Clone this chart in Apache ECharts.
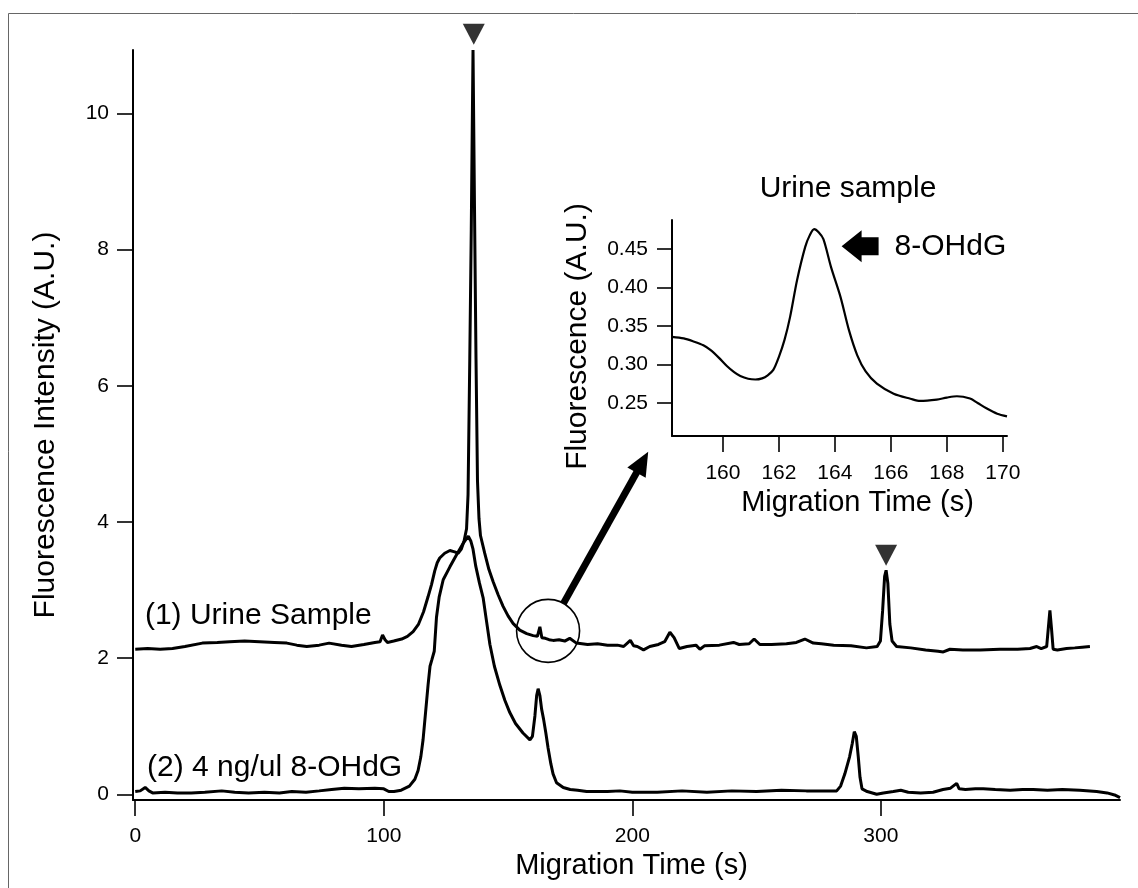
<!DOCTYPE html>
<html>
<head>
<meta charset="utf-8">
<script src="https://cdn.jsdelivr.net/npm/echarts@6/dist/echarts.min.js"></script>
<style>
  html, body { margin: 0; padding: 0; background: #fff; }
  #chart { width: 1138px; height: 888px; }
</style>
</head>
<body>
<div id="chart"></div>
<script>
// electropherogram: (1) urine sample, (2) 4 ng/ul 8-OHdG standard, inset = zoom on the urine trace

// trace (1) urine sample
const urineTime = [
  0, 5, 10, 15, 20, 27, 33, 38, 44, 50,
  56, 61, 65, 69, 74, 78, 83, 87, 92, 96.4,
  98.5, 99.5, 100.5, 101.5, 104, 107.2, 109.5, 111.8, 114, 116,
  117.8, 119.2, 120.5, 121.5, 122.5, 124.5, 126.6, 128.5, 129.9, 131.2,
  132.3, 133.3, 133.9, 134.6, 135.2, 135.9, 136.5, 137.1, 137.7, 138.3,
  138.9, 140.6, 142.3, 144, 146, 148, 150, 152, 154.7, 157.5,
  160.1, 161.8, 162.8, 163.6, 165, 166.5, 168.1, 170.5, 172.8, 174.8,
  177.5, 182, 186, 190, 194, 196.5, 199.2, 200.5, 202, 204.5,
  207, 210.5, 213, 215.1, 216.8, 218.9, 222, 225.6, 227.2, 229,
  235, 240.7, 243, 247, 249, 251.3, 256, 262, 266, 269.4,
  272.8, 276, 281, 288, 294.2, 298.5, 299.8, 300.7, 301.5, 302.1,
  302.8, 303.6, 304.5, 306.3, 312, 318, 323, 325.1, 327.8, 333,
  340, 347.9, 355, 360, 362.7, 364.5, 366.7, 367.5, 368, 368.6,
  369.3, 371, 374.7, 378, 381, 384.1
];
const urineSignal = [
  2.13, 2.14, 2.13, 2.14, 2.17, 2.22, 2.23, 2.24, 2.25, 2.24,
  2.23, 2.22, 2.19, 2.17, 2.19, 2.22, 2.19, 2.17, 2.20, 2.23,
  2.24, 2.34, 2.27, 2.23, 2.25, 2.28, 2.32, 2.39, 2.50, 2.68,
  2.90, 3.08, 3.28, 3.40, 3.47, 3.54, 3.58, 3.56, 3.54, 3.60,
  3.72, 3.90, 4.40, 6.40, 8.30, 10.93, 8.60, 6.40, 4.60, 4.05,
  3.80, 3.54, 3.30, 3.12, 2.93, 2.76, 2.62, 2.51, 2.41, 2.36,
  2.33, 2.32, 2.46, 2.30, 2.29, 2.27, 2.26, 2.27, 2.25, 2.29,
  2.22, 2.20, 2.21, 2.19, 2.19, 2.17, 2.26, 2.18, 2.17, 2.12,
  2.17, 2.20, 2.24, 2.38, 2.30, 2.14, 2.17, 2.19, 2.13, 2.18,
  2.19, 2.23, 2.20, 2.21, 2.28, 2.20, 2.20, 2.21, 2.23, 2.28,
  2.22, 2.21, 2.19, 2.18, 2.15, 2.17, 2.25, 2.70, 3.20, 3.29,
  3.10, 2.50, 2.25, 2.17, 2.15, 2.12, 2.10, 2.09, 2.13, 2.12,
  2.12, 2.13, 2.13, 2.14, 2.17, 2.14, 2.17, 2.50, 2.70, 2.45,
  2.13, 2.12, 2.14, 2.15, 2.16, 2.17
];

// trace (2) 8-OHdG standard
const stdTime = [
  0, 2, 4, 5.5, 7, 12, 17, 22.5, 28, 34.8,
  40, 45.6, 52, 58, 63, 68.7, 74, 79, 84.1, 90,
  96.4, 100, 102, 104.1, 107, 110.3, 112.5, 113.8, 114.9, 115.8,
  116.8, 117.8, 118.6, 119.3, 120.3, 121.2, 122.3, 123.9, 126.6, 129,
  132, 134, 135, 135.9, 137, 138.5, 140, 141.3, 142.7, 144.5,
  146.7, 148.7, 150.7, 153, 156, 158.8, 159.8, 160.8, 161.5, 162.1,
  162.8, 163.5, 164.3, 165.2, 166.1, 167.2, 168.1, 169.5, 172.2, 175,
  178, 181.6, 190, 195, 200, 210, 220, 230, 240, 250,
  260, 270, 278, 282.2, 283.8, 285.5, 287.4, 288.5, 289.3, 290.1,
  290.9, 291.6, 292.4, 294.5, 298.3, 301, 305, 308, 311, 316,
  321, 325, 328, 330.5, 331.5, 334, 338, 341.2, 346, 352,
  357, 361.3, 367, 373, 380, 386.8, 391, 394, 396.2
];
const stdSignal = [
  0.04, 0.05, 0.10, 0.05, 0.02, 0.03, 0.02, 0.02, 0.03, 0.05,
  0.03, 0.02, 0.03, 0.02, 0.04, 0.03, 0.05, 0.07, 0.09, 0.08,
  0.09, 0.08, 0.04, 0.04, 0.06, 0.12, 0.22, 0.35, 0.55, 0.80,
  1.20, 1.60, 1.88, 1.97, 2.10, 2.60, 2.90, 3.15, 3.34, 3.50,
  3.69, 3.79, 3.72, 3.60, 3.35, 3.10, 2.88, 2.55, 2.20, 1.88,
  1.60, 1.38, 1.20, 1.04, 0.90, 0.80, 0.85, 1.15, 1.45, 1.55,
  1.45, 1.25, 1.10, 0.90, 0.68, 0.45, 0.30, 0.17, 0.10, 0.07,
  0.06, 0.04, 0.04, 0.05, 0.03, 0.03, 0.05, 0.03, 0.05, 0.04,
  0.06, 0.05, 0.05, 0.05, 0.12, 0.30, 0.55, 0.75, 0.92, 0.85,
  0.55, 0.25, 0.08, 0.04, 0.00, 0.02, 0.04, 0.06, 0.03, 0.02,
  0.03, 0.07, 0.09, 0.16, 0.08, 0.07, 0.08, 0.08, 0.07, 0.06,
  0.07, 0.07, 0.06, 0.07, 0.06, 0.04, 0.02, -0.01, -0.05
];

// inset: urine sample around the 8-OHdG peak
const insetTime = [
  158.18, 158.6, 158.95, 159.3, 159.55, 159.85, 160.14, 160.4, 160.62, 160.9,
  161.16, 161.4, 161.6, 161.8, 162.0, 162.2, 162.4, 162.65, 162.94, 163.1,
  163.26, 163.42, 163.59, 163.86, 164.2, 164.5, 164.8, 165.1, 165.5, 166.1,
  166.7, 167.05, 167.64, 168.0, 168.36, 168.83, 169.1, 169.43, 169.8, 170.15
];
const insetSignal = [
  0.336, 0.334, 0.330, 0.325, 0.319, 0.309, 0.298, 0.290, 0.285, 0.2815,
  0.2805, 0.282, 0.286, 0.293, 0.310, 0.332, 0.362, 0.410, 0.453, 0.468,
  0.476, 0.472, 0.463, 0.427, 0.388, 0.345, 0.312, 0.291, 0.275, 0.262,
  0.2555, 0.2526, 0.2544, 0.257, 0.2587, 0.2557, 0.250, 0.2427, 0.236, 0.2326
];

// tick labels
const mainTimeTicks = [0, 100, 200, 300];
const mainSignalTicks = [0, 2, 4, 6, 8, 10];
const insetTimeTicks = [160, 162, 164, 166, 168, 170];
const insetSignalTicks = [0.25, 0.30, 0.35, 0.40, 0.45];

// peak markers (filled triangles)
const markerTime = [136.2, 302.1];
const markerSignal = [11.16, 3.51];

// annotation anchors, in data units
const circleAt = [166.1, 2.40];          // main axes
const zoomArrowTip = [157.33, 0.1865];   // inset axes
const peakArrowTip = [164.24, 0.4537];   // inset axes
const urineLabelAt = [3.9, 2.62];
const stdLabelAt = [4.75, 0.386];

const FONT = '"Liberation Sans", Arial, sans-serif';
const zip = (xs, ys) => xs.map((x, i) => [x, ys[i]]);

const axisCommon = (ticks, tickLen, margin, fmt) => ({
  type: "value",
  axisLine: { show: true, onZero: false, lineStyle: { color: "#000", width: 2 } },
  axisTick: { show: true, length: tickLen, customValues: ticks, lineStyle: { color: "#000", width: 1.6 } },
  axisLabel: {
    customValues: ticks, margin: margin, fontSize: 21, color: "#000", fontFamily: FONT,
    formatter: fmt || ((v) => String(v)),
  },
  splitLine: { show: false },
  nameLocation: "middle",
});

const option = {
  animation: false,
  backgroundColor: "#fff",
  grid: [
    { left: 133, right: 18, top: 50, bottom: 88, outerBoundsMode: "none" },
    { left: 672, right: 131, top: 220, bottom: 452, outerBoundsMode: "none" },
  ],
  xAxis: [
    Object.assign(axisCommon(mainTimeTicks, 16, 26), {
      gridIndex: 0, min: -0.9, max: 396.2,
      name: "Migration Time (s)", nameGap: 44,
      nameTextStyle: { fontSize: 29, color: "#000", fontFamily: FONT, padding: [0, 0, 0, 10] },
    }),
    Object.assign(axisCommon(insetTimeTicks, 16, 27), {
      gridIndex: 1, min: 158.18, max: 170.15,
      name: "Migration Time (s)", nameGap: 52,
      nameTextStyle: { fontSize: 29, color: "#000", fontFamily: FONT, padding: [0, 0, 0, 36] },
    }),
  ],
  yAxis: [
    Object.assign(axisCommon(mainSignalTicks, 16, 24), {
      gridIndex: 0, min: -0.084, max: 10.93,
      name: "Fluorescence Intensity (A.U.)", nameGap: 72,
      nameTextStyle: { fontSize: 30, color: "#000", fontFamily: FONT },
    }),
    Object.assign(axisCommon(insetSignalTicks, 15, 24, (v) => v.toFixed(2)), {
      gridIndex: 1, min: 0.207, max: 0.488,
      name: "Fluorescence (A.U.)", nameGap: 79,
      nameTextStyle: { fontSize: 30, color: "#000", fontFamily: FONT, padding: [0, 17, 0, 0] },
    }),
  ],
  series: [
    {
      name: "(1) Urine Sample", type: "line", xAxisIndex: 0, yAxisIndex: 0,
      data: zip(urineTime, urineSignal), symbol: "none", clip: false, silent: true,
      lineStyle: { color: "#000", width: 3 },
    },
    {
      name: "(2) 4 ng/ul 8-OHdG", type: "line", xAxisIndex: 0, yAxisIndex: 0,
      data: zip(stdTime, stdSignal), symbol: "none", clip: false, silent: true,
      lineStyle: { color: "#000", width: 3 },
    },
    {
      name: "markers", type: "scatter", xAxisIndex: 0, yAxisIndex: 0,
      data: zip(markerTime, markerSignal), clip: false, silent: true,
      symbol: "triangle", symbolRotate: 180, symbolSize: [22, 21],
      itemStyle: { color: "#000" },
    },
    {
      name: "Urine sample (inset)", type: "line", xAxisIndex: 1, yAxisIndex: 1,
      data: zip(insetTime, insetSignal), symbol: "none", smooth: 0.3, silent: true,
      lineStyle: { color: "#000", width: 2.2 },
    },
  ],
};

const chart = echarts.init(document.getElementById("chart"), null, { renderer: "canvas" });
chart.setOption(option);

// annotations placed through the axes
const px0 = (v) => chart.convertToPixel({ gridIndex: 0 }, v);
const px1 = (v) => chart.convertToPixel({ gridIndex: 1 }, v);

const circleR = 31.5;
const c = px0(circleAt);
const tip = px1(zoomArrowTip);
const dx = tip[0] - c[0], dy = tip[1] - c[1];
const len = Math.hypot(dx, dy);
const ux = dx / len, uy = dy / len;
const headLen = 24, headW = 21;
const base = [tip[0] - ux * headLen, tip[1] - uy * headLen];

const pk = px1(peakArrowTip);
const urinePos = px0(urineLabelAt);
const stdPos = px0(stdLabelAt);

const textEl = (txt, pos, size, align) => ({
  type: "text", x: pos[0], y: pos[1], silent: true, z: 10,
  style: {
    text: txt, fontSize: size, fontFamily: FONT, fill: "#000",
    align: align, verticalAlign: "middle", textAlign: align, textVerticalAlign: "middle",
  },
});

chart.setOption({
  graphic: [
    // figure frame
    {
      type: "rect", silent: true, z: 0,
      shape: { x: 8.5, y: 13.5, width: 1150, height: 900 },
      style: { fill: "none", stroke: "#666", lineWidth: 1 },
    },
    // circle around the small urine peak
    {
      type: "circle", silent: true, z: 10,
      shape: { cx: c[0], cy: c[1], r: circleR },
      style: { fill: "none", stroke: "#000", lineWidth: 1.6 },
    },
    // arrow to the inset
    {
      type: "line", silent: true, z: 10,
      shape: { x1: c[0] + ux * circleR, y1: c[1] + uy * circleR, x2: base[0] + ux * 4, y2: base[1] + uy * 4 },
      style: { stroke: "#000", lineWidth: 7 },
    },
    {
      type: "polygon", silent: true, z: 10,
      shape: {
        points: [
          tip,
          [base[0] - uy * headW / 2, base[1] + ux * headW / 2],
          [base[0] + uy * headW / 2, base[1] - ux * headW / 2],
        ],
      },
      style: { fill: "#000" },
    },
    // block arrow pointing at the 8-OHdG peak
    {
      type: "polygon", silent: true, z: 10,
      shape: {
        points: [
          [pk[0], pk[1]],
          [pk[0] + 20, pk[1] - 16],
          [pk[0] + 20, pk[1] - 9],
          [pk[0] + 37, pk[1] - 9],
          [pk[0] + 37, pk[1] + 9],
          [pk[0] + 20, pk[1] + 9],
          [pk[0] + 20, pk[1] + 16],
        ],
      },
      style: { fill: "#000" },
    },
    textEl("8-OHdG", [pk[0] + 53, pk[1]], 30, "left"),
    textEl("Urine sample", [848, 189], 30, "center"),
    textEl("(1) Urine Sample", urinePos, 30, "left"),
    textEl("(2) 4 ng/ul 8-OHdG", stdPos, 30, "left"),
  ],
});
</script>
</body>
</html>
